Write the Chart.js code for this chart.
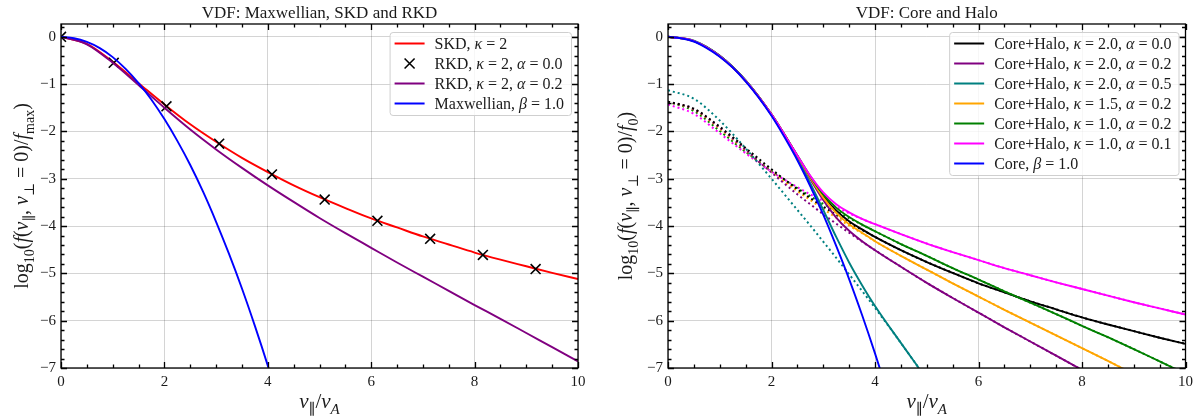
<!DOCTYPE html>
<html>
<head>
<meta charset="utf-8">
<title>VDF comparison</title>
<script src="https://cdn.jsdelivr.net/npm/chart.js"></script>
<style>
    html, body { margin: 0; padding: 0; background: #fff; }
    #wrap { position: relative; width: 1198px; height: 418px; }
    .panel { position: absolute; top: 0; width: 599px; height: 418px; }
</style>
</head>
<body>
<div id="wrap">
    <div class="panel" style="left:0"><canvas id="vdf_left" width="599" height="418"></canvas></div>
    <div class="panel" style="left:599px"><canvas id="vdf_right" width="599" height="418"></canvas></div>
</div>
<script>
// ---- axis ticks ----
const X_TICKS = [0, 2, 4, 6, 8, 10];
const Y_TICKS = [-7, -6, -5, -4, -3, -2, -1, 0];

// ---- left panel: Maxwellian, SKD, RKD (log10 f / f_max) ----
const V_GRID = [0, 0.5, 1, 1.5, 2, 2.5, 3, 3.5, 4, 4.5, 5, 5.5, 6, 6.5, 7, 7.5, 8, 8.5, 9, 9.5, 10];
const SKD_K2 = [0, -0.15, -0.53, -0.98, -1.43, -1.85, -2.22, -2.56, -2.86, -3.14, -3.39, -3.62, -3.84, -4.03, -4.22, -4.39, -4.56, -4.71, -4.85, -4.99, -5.12];
const RKD_K2_A02 = [0, -0.16, -0.55, -1.02, -1.50, -1.96, -2.38, -2.77, -3.14, -3.49, -3.83, -4.15, -4.46, -4.77, -5.07, -5.37, -5.67, -5.96, -6.26, -6.56, -6.86];
const V_MARK = [0, 1.02, 2.04, 3.06, 4.08, 5.10, 6.12, 7.14, 8.16, 9.18];
const RKD_K2_A00 = [0, -0.55, -1.47, -2.26, -2.91, -3.44, -3.89, -4.27, -4.61, -4.91];
const V_MAXW = [0, 0.25, 0.5, 0.75, 1, 1.25, 1.5, 1.75, 2, 2.25, 2.5, 2.75, 3, 3.25, 3.5, 3.75, 4, 4.25];
const MAXW_B1 = [0, -0.03, -0.11, -0.24, -0.43, -0.68, -0.98, -1.33, -1.74, -2.20, -2.71, -3.28, -3.91, -4.59, -5.32, -6.11, -6.95, -7.85];

// ---- right panel: core + halo (log10 f / f_0) ----
const V_CH = [0, 0.5, 1, 1.5, 2, 2.5, 2.75, 3, 3.25, 3.5, 3.75, 4, 4.5, 5, 5.5, 6, 6.5, 7, 7.5, 8, 8.5, 9, 9.5, 10];
const CH_K20_A00 = [0, -0.09, -0.40, -0.92, -1.64, -2.52, -2.97, -3.37, -3.67, -3.90, -4.07, -4.23, -4.51, -4.76, -4.99, -5.21, -5.40, -5.59, -5.76, -5.93, -6.08, -6.22, -6.36, -6.49];
const CH_K20_A02 = [0, -0.09, -0.40, -0.93, -1.65, -2.54, -3.01, -3.45, -3.82, -4.10, -4.32, -4.51, -4.86, -5.20, -5.52, -5.83, -6.14, -6.44, -6.74, -7.04, -7.33, -7.63, -7.93, -8.23];
const CH_K20_A05 = [0, -0.08, -0.40, -0.92, -1.65, -2.57, -3.10, -3.66, -4.23, -4.77, -5.25, -5.69, -6.47, -7.24, -8.04, -8.88, -9.75, -10.67, -11.63, -12.64, -13.68, -14.78, -15.92, -17.11];
const CH_K15_A02 = [0, -0.09, -0.41, -0.93, -1.64, -2.52, -2.98, -3.40, -3.72, -3.96, -4.14, -4.32, -4.63, -4.92, -5.21, -5.49, -5.77, -6.04, -6.31, -6.58, -6.85, -7.13, -7.40, -7.68];
const CH_K10_A02 = [0, -0.09, -0.41, -0.93, -1.64, -2.51, -2.95, -3.33, -3.61, -3.81, -3.97, -4.11, -4.38, -4.63, -4.89, -5.13, -5.38, -5.62, -5.86, -6.11, -6.35, -6.60, -6.86, -7.12];
const CH_K10_A01 = [0, -0.09, -0.41, -0.93, -1.64, -2.51, -2.94, -3.29, -3.54, -3.71, -3.85, -3.96, -4.17, -4.37, -4.55, -4.72, -4.89, -5.04, -5.19, -5.33, -5.47, -5.61, -5.74, -5.87];
const HALO_K20_A00 = [-1.37, -1.52, -1.90, -2.35, -2.80, -3.22, -3.41, -3.59, -3.76, -3.93, -4.08, -4.23, -4.51, -4.76, -4.99, -5.21, -5.40, -5.59, -5.76, -5.93, -6.08, -6.22, -6.36, -6.49];
const HALO_K20_A02 = [-1.37, -1.53, -1.92, -2.39, -2.87, -3.33, -3.54, -3.75, -3.95, -4.14, -4.33, -4.51, -4.86, -5.20, -5.52, -5.83, -6.14, -6.44, -6.74, -7.04, -7.33, -7.63, -7.93, -8.23];
const HALO_K20_A05 = [-1.13, -1.31, -1.77, -2.36, -3.00, -3.66, -3.99, -4.33, -4.67, -5.02, -5.37, -5.73, -6.47, -7.24, -8.04, -8.88, -9.75, -10.67, -11.63, -12.64, -13.68, -14.78, -15.92, -17.11];
const HALO_K15_A02 = [-1.37, -1.54, -1.94, -2.40, -2.85, -3.26, -3.45, -3.64, -3.82, -3.99, -4.15, -4.32, -4.63, -4.92, -5.21, -5.49, -5.77, -6.04, -6.31, -6.58, -6.85, -7.13, -7.40, -7.68];
const HALO_K10_A02 = [-1.37, -1.57, -1.99, -2.43, -2.84, -3.20, -3.37, -3.53, -3.68, -3.83, -3.97, -4.11, -4.38, -4.63, -4.89, -5.13, -5.38, -5.62, -5.86, -6.11, -6.35, -6.60, -6.86, -7.12];
const HALO_K10_A01 = [-1.43, -1.63, -2.04, -2.46, -2.85, -3.18, -3.33, -3.47, -3.60, -3.73, -3.85, -3.96, -4.17, -4.37, -4.55, -4.72, -4.89, -5.04, -5.19, -5.33, -5.47, -5.61, -5.74, -5.87];
const V_CORE = [0, 0.25, 0.5, 0.75, 1, 1.25, 1.5, 1.75, 2, 2.25, 2.5, 2.75, 3, 3.25, 3.5, 3.75, 4, 4.25];
const CORE_B1 = [0, -0.03, -0.10, -0.24, -0.42, -0.65, -0.94, -1.28, -1.67, -2.12, -2.61, -3.16, -3.76, -4.42, -5.12, -5.88, -6.69, -7.55];

const SERIF = '"Liberation Serif", "DejaVu Serif", serif';
const GRID = "rgba(0, 0, 0, 0.17)";
const TEXT = "#1a1a1a";

const pts = (xs, ys) => xs.map((x, i) => ({ x, y: ys[i] }));
const fmt = (v) => (v < 0 ? "\u2212" + Math.abs(v) : String(v));

// draws a run of [text, style] pieces; style: "" upright, "i" italic, "s" subscript, "si" italic subscript
function richParts(ctx, parts, size) {
    return parts.map(([t, st]) => {
        const sub = st.includes("s");
        const font = `${st.includes("i") ? "italic " : ""}${sub ? Math.round(size * 0.7) : size}px ${SERIF}`;
        ctx.font = font;
        return { t, font, dy: sub ? size * 0.28 : 0, w: ctx.measureText(t).width };
    });
}

function richText(ctx, parts, x, y, size, align) {
    const runs = richParts(ctx, parts, size);
    const total = runs.reduce((s, r) => s + r.w, 0);
    let cx = align === "center" ? x - total / 2 : x;
    ctx.textAlign = "left";
    runs.forEach((r) => {
        ctx.font = r.font;
        ctx.fillText(r.t, cx, y + r.dy);
        cx += r.w;
    });
    return total;
}

function greekParts(label) {
    return label.split(/([κβα])/).filter((s) => s).map((s) => [s, /[κβα]/.test(s) ? "i" : ""]);
}

const vdfDecor = {
    id: "vdfDecor",
    afterDatasetsDraw(chart) {
        const { ctx, chartArea: a, scales: { x, y } } = chart;
        ctx.save();
        ctx.strokeStyle = "#000";
        ctx.lineWidth = 1.3;
        ctx.beginPath();
        // inward ticks on all four sides
        for (let k = 0; k <= 20; k++) {
            const v = k * 0.5;
            const px = Math.round(x.getPixelForValue(v)) + 0.5;
            const len = k % 4 === 0 ? 6 : 3.5;
            ctx.moveTo(px, a.bottom); ctx.lineTo(px, a.bottom - len);
            ctx.moveTo(px, a.top); ctx.lineTo(px, a.top + len);
        }
        for (let k = 0; k <= 36; k++) {
            const v = -7 + k * 0.2;
            if (v > y.max) break;
            const py = Math.round(y.getPixelForValue(v)) + 0.5;
            const len = k % 5 === 0 ? 6 : 3.5;
            ctx.moveTo(a.left, py); ctx.lineTo(a.left + len, py);
            ctx.moveTo(a.right, py); ctx.lineTo(a.right - len, py);
        }
        ctx.stroke();
        ctx.strokeRect(a.left, a.top, a.right - a.left, a.bottom - a.top);
        ctx.restore();
    },
    afterDraw(chart, args, opts) {
        const { ctx, chartArea: a } = chart;
        const cx = (a.left + a.right) / 2;
        ctx.save();
        ctx.fillStyle = TEXT;
        ctx.textBaseline = "alphabetic";

        ctx.font = `17px ${SERIF}`;
        ctx.textAlign = "center";
        ctx.fillText(opts.title, cx, 18);

        richText(ctx, [["v", "i"], ["\u2225", "s"], ["/", ""], ["v", "i"], ["A", "si"]], cx, 408, 21, "center");

        ctx.save();
        ctx.translate(opts.ylabelX, (a.top + a.bottom) / 2);
        ctx.rotate(-Math.PI / 2);
        richText(ctx, opts.ylabel, 0, 0, 20, "center");
        ctx.restore();

        // legend box in the upper right corner
        const items = chart.data.datasets.filter((d) => !d.legendSkip);
        const size = 16;
        const widths = items.map((d) => richParts(ctx, greekParts(d.label), size).reduce((s, r) => s + r.w, 0));
        const w = 5 + 30 + 10 + Math.max(...widths) + 7;
        const h = 23 + (items.length - 1) * 20;
        const right = a.right - 7;
        const top = a.top + 8;
        const left = right - w;
        ctx.fillStyle = "rgba(255, 255, 255, 0.8)";
        ctx.strokeStyle = "#cfcfcf";
        ctx.lineWidth = 1;
        ctx.beginPath();
        if (ctx.roundRect) ctx.roundRect(left + 0.5, top + 0.5, w, h, 3);
        else ctx.rect(left + 0.5, top + 0.5, w, h);
        ctx.fill();
        ctx.stroke();
        items.forEach((d, i) => {
            const cy = top + 11.5 + i * 20;
            const hx = left + 5;
            ctx.strokeStyle = d.borderColor;
            ctx.beginPath();
            if (d.showLine === false) {
                ctx.lineWidth = 1.6;
                ctx.moveTo(hx + 10, cy - 5); ctx.lineTo(hx + 20, cy + 5);
                ctx.moveTo(hx + 10, cy + 5); ctx.lineTo(hx + 20, cy - 5);
            } else {
                ctx.lineWidth = 2;
                ctx.moveTo(hx, cy); ctx.lineTo(hx + 30, cy);
            }
            ctx.stroke();
            ctx.fillStyle = TEXT;
            richText(ctx, greekParts(d.label), hx + 40, cy + 5, size, "left");
        });
        ctx.restore();
    }
};

function scales(yWidth) {
    const tickFont = { family: SERIF, size: 15 };
    return {
        x: {
            type: "linear", min: 0, max: 10,
            afterBuildTicks: (s) => { s.ticks = X_TICKS.map((v) => ({ value: v })); },
            afterFit: (s) => { s.height = 50; },
            grid: { color: GRID, lineWidth: 1, drawTicks: false },
            border: { display: false },
            ticks: { padding: 5, color: TEXT, font: tickFont, maxRotation: 0, autoSkip: false, callback: fmt }
        },
        y: {
            type: "linear", min: -7, max: 0.27,
            afterBuildTicks: (s) => { s.ticks = Y_TICKS.map((v) => ({ value: v })); },
            afterFit: (s) => { s.width = yWidth; },
            grid: { color: GRID, lineWidth: 1, drawTicks: false },
            border: { display: false },
            ticks: { padding: 5, color: TEXT, font: tickFont, autoSkip: false, callback: fmt }
        }
    };
}

function line(label, xs, ys, color, order, extra) {
    return Object.assign({
        label,
        data: pts(xs, ys),
        borderColor: color,
        backgroundColor: color,
        borderWidth: 1.9,
        pointRadius: 0,
        fill: false,
        cubicInterpolationMode: "monotone",
        clip: 0,
        order
    }, extra || {});
}

function halo(xs, ys, color) {
    return line("halo", xs, ys, color, 10, { borderDash: [2, 3], borderWidth: 2, legendSkip: true });
}

function buildChart(id, datasets, padRight, yWidth, decor) {
    return new Chart(document.getElementById(id), {
        type: "line",
        data: { datasets },
        options: {
            responsive: false,
            animation: false,
            events: [],
            layout: { padding: { top: 24, right: padRight, bottom: 0, left: 0 } },
            scales: scales(yWidth),
            plugins: { legend: { display: false }, tooltip: { enabled: false }, vdfDecor: decor }
        },
        plugins: [vdfDecor]
    });
}

buildChart("vdf_left", [
    line("SKD, κ = 2", V_GRID, SKD_K2, "#ff0000", 3),
    line("RKD, κ = 2, α = 0.0", V_MARK, RKD_K2_A00, "#000000", 2, {
        showLine: false, pointStyle: "crossRot", pointRadius: 7, borderWidth: 1.6
    }),
    line("RKD, κ = 2, α = 0.2", V_GRID, RKD_K2_A02, "#800080", 1),
    line("Maxwellian, β = 1.0", V_MAXW, MAXW_B1, "#0000ff", 0)
], 21, 61, {
    title: "VDF: Maxwellian, SKD and RKD",
    ylabelX: 28,
    ylabel: [["log", ""], ["10", "s"], ["(", ""], ["f", "i"], ["(", ""], ["v", "i"], ["\u2225", "s"], [", ", ""],
        ["v", "i"], ["\u22a5", "s"], [" = 0)/", ""], ["f", "i"], ["max", "s"], [")", ""]]
});

buildChart("vdf_right", [
    line("Core+Halo, κ = 2.0, α = 0.0", V_CH, CH_K20_A00, "#000000", 6),
    line("Core+Halo, κ = 2.0, α = 0.2", V_CH, CH_K20_A02, "#800080", 5),
    line("Core+Halo, κ = 2.0, α = 0.5", V_CH, CH_K20_A05, "#008080", 4),
    line("Core+Halo, κ = 1.5, α = 0.2", V_CH, CH_K15_A02, "#ffa500", 3),
    line("Core+Halo, κ = 1.0, α = 0.2", V_CH, CH_K10_A02, "#008000", 2),
    line("Core+Halo, κ = 1.0, α = 0.1", V_CH, CH_K10_A01, "#ff00ff", 1),
    line("Core, β = 1.0", V_CORE, CORE_B1, "#0000ff", 0),
    halo(V_CH, HALO_K20_A00, "#000000"),
    halo(V_CH, HALO_K20_A02, "#800080"),
    halo(V_CH, HALO_K20_A05, "#008080"),
    halo(V_CH, HALO_K15_A02, "#ffa500"),
    halo(V_CH, HALO_K10_A02, "#008000"),
    halo(V_CH, HALO_K10_A01, "#ff00ff")
], 12, 69, {
    title: "VDF: Core and Halo",
    ylabelX: 33,
    ylabel: [["log", ""], ["10", "s"], ["(", ""], ["f", "i"], ["(", ""], ["v", "i"], ["\u2225", "s"], [", ", ""],
        ["v", "i"], ["\u22a5", "s"], [" = 0)/", ""], ["f", "i"], ["0", "s"], [")", ""]]
});
</script>
</body>
</html>
